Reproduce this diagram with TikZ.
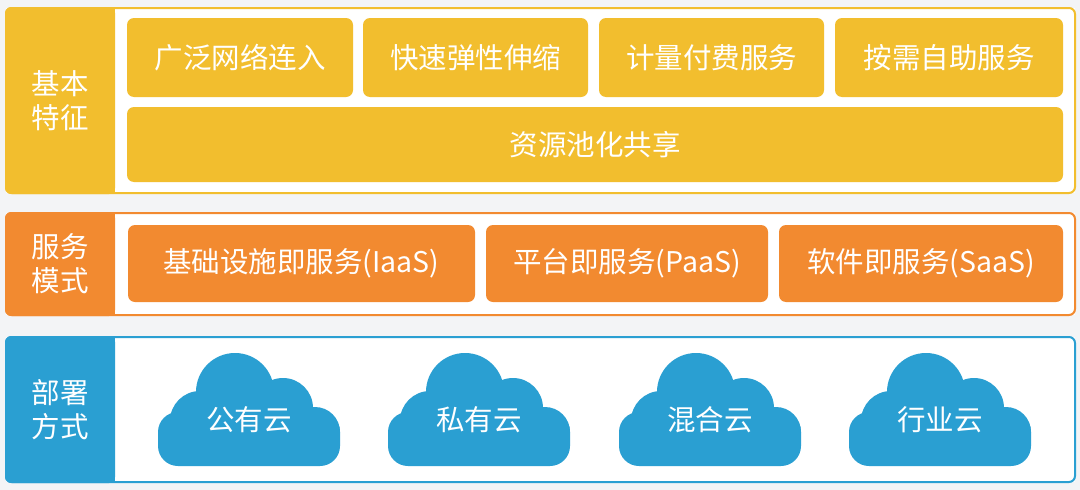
\documentclass[tikz,border=0pt]{standalone}
\usepackage{fontspec}
\setmainfont{Noto Sans CJK SC}
\definecolor{yel}{HTML}{F2BE2E}
\definecolor{ora}{HTML}{F28A30}
\definecolor{blu}{HTML}{2A9FD2}
\definecolor{bg}{HTML}{F3F4F6}
\begin{document}
\begin{tikzpicture}[x=1pt,y=-1pt,
  txt/.style={text=white,font=\fontsize{28.5}{32}\selectfont},
  lab/.style={text=white,font=\fontsize{28.5}{34}\selectfont,align=center},
  cell/.style={rounded corners=7pt,txt}]
\fill[bg] (0,0) rectangle (1080,490);
\useasboundingbox (0,0) rectangle (1080,490);
% panels
\foreach \c/\ya/\yb in {yel/8/193,ora/213/315,blu/337/482}{
  \fill[white] (6,\ya) rectangle (1075,\yb);
  \draw[\c,line width=2pt,rounded corners=6pt] (6,\ya) rectangle (1075,\yb);
  \fill[\c,rounded corners=6pt] (5,\ya-1) rectangle (115,\yb+1);
  \fill[\c] (100,\ya-1) rectangle (115,\yb+1);
}
\node[lab] (l1) at (60,100.5) {基本\\特征};
\node[lab] (l2) at (60,264) {服务\\模式};
\node[lab] (l3) at (60,409.5) {部署\\方式};
% row 1
\foreach \n/\a/\b/\t in {a/127/353/广泛网络连入,b/363/588/快速弹性伸缩,c/599/824/计量付费服务,d/835/1063/按需自助服务}{
  \fill[yel,rounded corners=7pt] (\a,18) rectangle (\b,97);
  \node[txt] (\n) at ({(\a+\b)/2},57.5) {\t};
}
\fill[yel,rounded corners=7pt] (127,107) rectangle (1063,182);
\node[txt] (e) at (595,144.5) {资源池化共享};
% row 2
\foreach \n/\a/\b/\t in {f/128/475/基础设施即服务(IaaS),g/486/768/平台即服务(PaaS),h/779/1063/软件即服务(SaaS)}{
  \fill[ora,rounded corners=7pt] (\a,225) rectangle (\b,302);
  \node[txt] (\n) at ({(\a+\b)/2},263.5) {\t};
}
% clouds
\foreach \n/\cx/\t in {p/249/公有云,q/479/私有云,r/710/混合云,s/940/行业云}{
  \begin{scope}[shift={(\cx,0)}]
  \fill[blu] (-49,421) circle (30);
  \fill[blu] (-14,392) circle (39);
  \fill[blu] (34,408) circle (30);
  \fill[blu] (66,432) circle (25);
  \fill[blu,rounded corners=20pt] (-91,412) rectangle (91,466);
  \end{scope}
  \node[txt] (\n) at (\cx,420) {\t};
}
\end{tikzpicture}
\end{document}
